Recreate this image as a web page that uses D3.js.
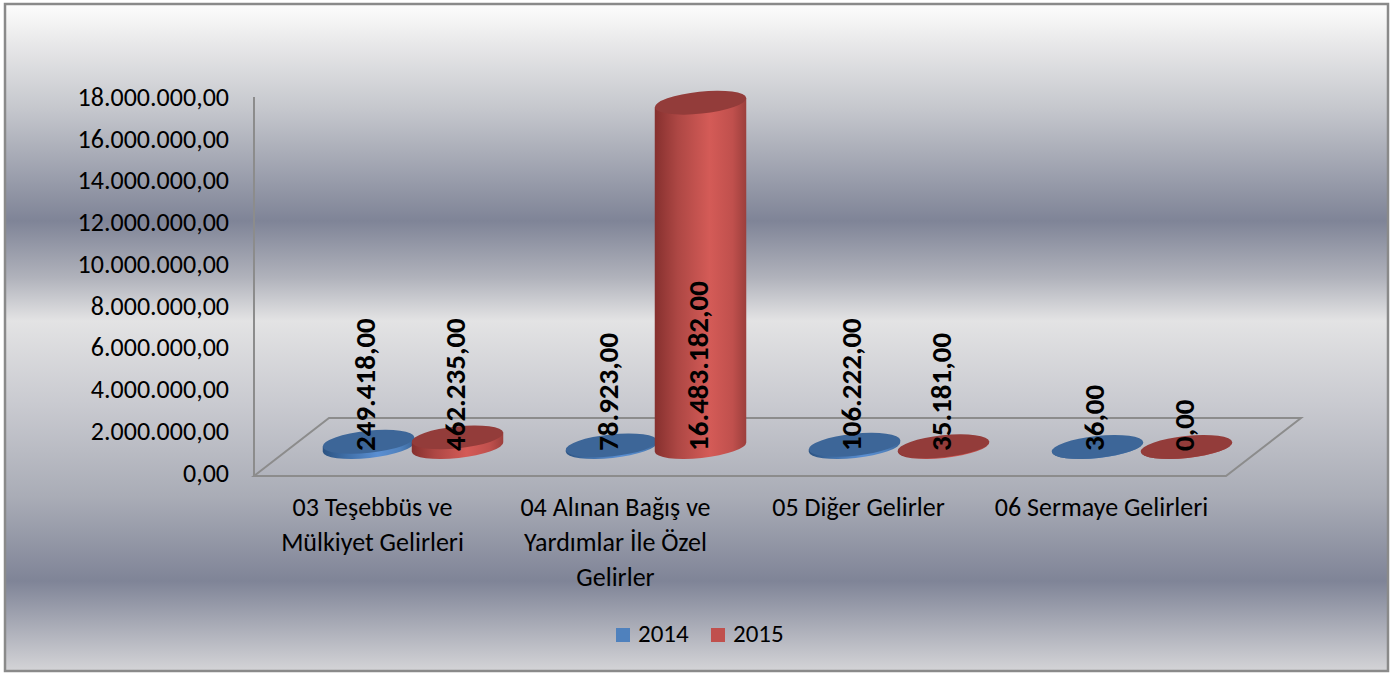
<!DOCTYPE html>
<html>
<head>
<meta charset="utf-8">
<script src="https://cdn.jsdelivr.net/npm/d3@7"></script>
<style>
  body { margin: 0; background: #fff; }
  text { font-family: Carlito, Calibri, 'Open Sans', sans-serif; fill: #000; }
</style>
</head>
<body>
<svg id="drawing_region"></svg>
<script>
// data
const categories = ["03 Teşebbüs ve Mülkiyet Gelirleri", "04 Alınan Bağış ve Yardımlar İle Özel Gelirler", "05 Diğer Gelirler", "06 Sermaye Gelirleri"];
const categoryLines = [["03 Teşebbüs ve", "Mülkiyet Gelirleri"], ["04 Alınan Bağış ve", "Yardımlar İle Özel", "Gelirler"], ["05 Diğer Gelirler"], ["06 Sermaye Gelirleri"]];
const series = ["2014", "2015"];
const values2014 = [249418, 78923, 106222, 36];
const values2015 = [462235, 16483182, 35181, 0];
const yTicks = [0, 2000000, 4000000, 6000000, 8000000, 10000000, 12000000, 14000000, 16000000, 18000000];

const W = 1393, H = 675;
const svg = d3.select('#drawing_region').attr('width', W).attr('height', H);

const trLocale = d3.formatLocale({ decimal: ",", thousands: ".", grouping: [3], currency: ["", ""] });
const fmt = trLocale.format(",.2f");

const defs = svg.append('defs');

// chart area background
const bg = defs.append('linearGradient').attr('id', 'bg').attr('x1', 0).attr('y1', 0).attr('x2', 0).attr('y2', 1);
[[0, '#fdfdfd'], [0.06, '#e8e8e9'], [0.16, '#c4c6cc'], [0.325, '#7f8497'], [0.41, '#b0b2bb'], [0.475, '#e3e3e4'], [0.6, '#c9cad0'], [0.74, '#a9acb6'], [0.865, '#7f8497'], [1, '#d4d4d7']]
  .forEach(s => bg.append('stop').attr('offset', s[0]).attr('stop-color', s[1]));

svg.append('rect')
  .attr('x', 5).attr('y', 4).attr('width', 1383).attr('height', 667)
  .attr('fill', 'url(#bg)')
  .attr('stroke', '#8a8a8a').attr('stroke-width', 2.5);

// colours
const sideColors = {
  "2014": [['0', '#2c5382'], ['0.25', '#3f6ea6'], ['0.6', '#5b8fd2'], ['0.85', '#4f81bd'], ['1', '#3a6598']],
  "2015": [['0', '#86302e'], ['0.25', '#ad4744'], ['0.6', '#d45b57'], ['0.85', '#c0504d'], ['1', '#9c3f3c']]
};
const topColors = { "2014": '#3d6698', "2015": '#933c3a' };
const legendColors = { "2014": '#4f81bd', "2015": '#c0504d' };

series.forEach(s => {
  const g = defs.append('linearGradient').attr('id', 'side' + s).attr('x1', 0).attr('y1', 0).attr('x2', 1).attr('y2', 0);
  sideColors[s].forEach(c => g.append('stop').attr('offset', c[0]).attr('stop-color', c[1]));
});

// 3d floor geometry
const floor = { left: 254, right: 1226, front: 476, dx: 75, dy: 58 };
const baseY = floor.front - floor.dy / 2;

const xscale = d3.scaleBand()
  .domain(categories)
  .range([floor.left + floor.dx / 2, floor.right + floor.dx / 2]);

const xinner = d3.scaleBand()
  .domain(series)
  .range([0, xscale.bandwidth()])
  .paddingOuter(0.365);

const yscale = d3.scaleLinear().domain([0, 18000000]).range([baseY, baseY - 376]);
const yaxisScale = d3.scaleLinear().domain([0, 18000000]).range([473, 97]);

// floor
const fp = [
  [floor.left, floor.front], [floor.left + floor.dx, floor.front - floor.dy],
  [floor.right + floor.dx, floor.front - floor.dy], [floor.right, floor.front]
];
svg.append('path')
  .attr('d', d3.line()(fp) + 'Z')
  .attr('fill', 'none')
  .attr('stroke', '#8c8c8c').attr('stroke-width', 2);

// vertical axis line
svg.append('line')
  .attr('x1', floor.left).attr('x2', floor.left)
  .attr('y1', yaxisScale(18000000)).attr('y2', floor.front)
  .attr('stroke', '#8c8c8c').attr('stroke-width', 2);

// y axis labels
const yaxis = d3.axisLeft(yaxisScale).tickValues(yTicks).tickSize(0).tickPadding(0).tickFormat(fmt);
const yg = svg.append('g').attr('transform', 'translate(229,0)').call(yaxis);
yg.select('.domain').remove();
yg.selectAll('text').style('font-size', '26px').attr('fill', '#000')
  .style('font-family', "Carlito, Calibri, 'Open Sans', sans-serif");

// cylinders
const rx = 46, ry = 11, ang = -6;
const a = ang * Math.PI / 180;

const bars = [];
series.forEach((s, si) => {
  const vals = si === 0 ? values2014 : values2015;
  categories.forEach((c, ci) => {
    bars.push({ series: s, category: c, value: vals[ci] });
  });
});

function cx(d) { return xscale(d.category) + xinner(d.series) + xinner.bandwidth() / 2; }

function bodyPath(d) {
  const x = cx(d), yb = yscale(0), yt = yscale(d.value);
  const ex = rx * Math.cos(a), ey = rx * Math.sin(a);
  return `M${x - ex},${yb - ey} L${x - ex},${yt - ey} L${x + ex},${yt + ey} L${x + ex},${yb + ey} ` +
    `A${rx},${ry} ${ang} 0 1 ${x - ex},${yb - ey} Z`;
}

const cyl = svg.append('g').selectAll('g')
  .data(bars)
  .join('g');

cyl.append('path')
  .attr('d', bodyPath)
  .attr('fill', d => `url(#side${d.series})`);

cyl.append('ellipse')
  .attr('cx', cx)
  .attr('cy', d => yscale(d.value))
  .attr('rx', rx).attr('ry', ry)
  .attr('transform', d => `rotate(${ang},${cx(d)},${yscale(d.value)})`)
  .attr('fill', d => topColors[d.series]);

// data labels
svg.append('g').selectAll('text')
  .data(bars)
  .join('text')
  .attr('x', d => cx(d) - 3)
  .attr('y', baseY + 4)
  .attr('transform', d => `rotate(-90,${cx(d) - 3},${baseY + 4})`)
  .attr('text-anchor', 'start')
  .attr('dominant-baseline', 'central')
  .style('font-size', '29px')
  .style('font-weight', 'bold')
  .text(d => fmt(d.value));

// category labels
const cl = svg.append('g').selectAll('text')
  .data(categories)
  .join('text')
  .attr('x', d => xscale(d) + xscale.bandwidth() / 2 - floor.dx / 2 - 3)
  .attr('y', 516)
  .attr('text-anchor', 'middle')
  .style('font-size', '26px');

cl.each(function(d, i) {
  d3.select(this).selectAll('tspan')
    .data(categoryLines[i])
    .join('tspan')
    .attr('x', xscale(d) + xscale.bandwidth() / 2 - floor.dx / 2 - 3)
    .attr('dy', (t, j) => j === 0 ? 0 : 35)
    .text(t => t);
});

// legend
const legend = svg.append('g').selectAll('g')
  .data(series)
  .join('g')
  .attr('transform', (d, i) => `translate(${616 + i * 95},628)`);

legend.append('rect')
  .attr('width', 14).attr('height', 14)
  .attr('fill', d => legendColors[d]);

legend.append('text')
  .attr('x', 22).attr('y', 14)
  .style('font-size', '25px')
  .text(d => d);
</script>
</body>
</html>
